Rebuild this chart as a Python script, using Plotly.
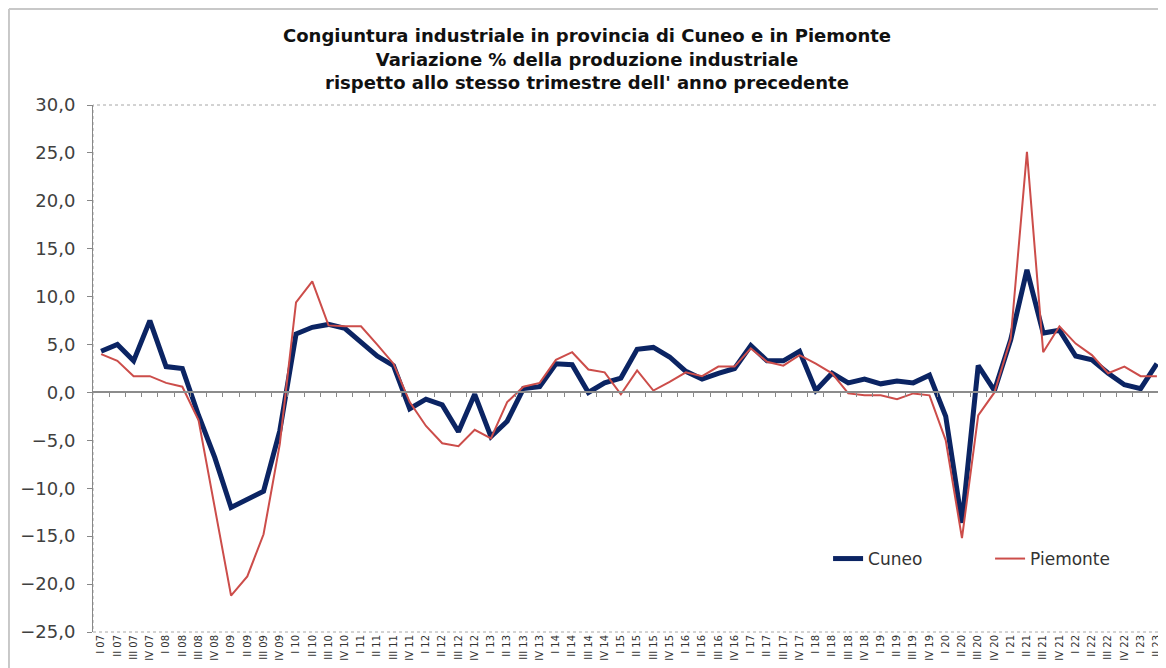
import plotly.graph_objects as go

# quarters I 07 ... II 23
roman = ['I', 'II', 'III', 'IV']
quarters = [f'{q} {y:02d}' for y in range(7, 24) for q in roman][:66]

cuneo = [4.3, 5.0, 3.3, 7.5, 2.7, 2.5, -2.4, -6.8, -12.0, -11.2, -10.3, -4.0,
         6.1, 6.8, 7.1, 6.7, 5.2, 3.8, 2.8, -1.7, -0.7, -1.3, -4.1, -0.2,
         -4.6, -3.0, 0.4, 0.6, 3.0, 2.9, 0.0, 1.0, 1.5, 4.5, 4.7, 3.7,
         2.2, 1.4, 2.0, 2.5, 4.9, 3.3, 3.3, 4.3, 0.2, 2.0, 1.0, 1.4,
         0.9, 1.2, 1.0, 1.8, -2.5, -13.6, 2.8, 0.2, 5.5, 12.8, 6.2, 6.5,
         3.8, 3.4, 2.0, 0.8, 0.4, 3.0]

piemonte = [4.0, 3.3, 1.7, 1.7, 1.0, 0.6, -2.9, -12.0, -21.2, -19.2, -14.8, -5.4,
            9.4, 11.6, 7.0, 6.9, 6.9, 5.0, 3.0, -1.0, -3.5, -5.3, -5.6, -3.9,
            -4.8, -1.0, 0.6, 1.0, 3.4, 4.2, 2.4, 2.1, -0.2, 2.3, 0.2, 1.1,
            2.1, 1.7, 2.7, 2.7, 4.6, 3.2, 2.8, 3.9, 3.0, 2.0, -0.1, -0.3,
            -0.3, -0.7, -0.1, -0.3, -5.0, -15.2, -2.4, 0.0, 5.6, 25.1, 4.2, 6.9,
            5.1, 3.9, 2.0, 2.7, 1.7, 1.7]

y_ticks = [30, 25, 20, 15, 10, 5, 0, -5, -10, -15, -20, -25]

idx = list(range(len(quarters)))

fig = go.Figure()

fig.add_trace(go.Scatter(
    x=idx, y=cuneo, name='Cuneo', mode='lines',
    line=dict(color='#0B2463', width=5),
))
fig.add_trace(go.Scatter(
    x=idx, y=piemonte, name='Piemonte', mode='lines',
    line=dict(color='#CC4D4A', width=2),
))

# dummy trace so the tick axis on the zero line gets drawn
fig.add_trace(go.Scatter(x=[0], y=[0], xaxis='x2', mode='lines',
                         showlegend=False, hoverinfo='skip',
                         line=dict(color='rgba(0,0,0,0)')))

zero_pos = (0 - (-25)) / (30 - (-25))

# the page body adds an 8px margin, so the figure is a bit smaller
fig.update_layout(
    width=1158, height=660,
    paper_bgcolor='white', plot_bgcolor='white',
    margin=dict(l=85, r=1, t=97, b=36),
    separators=',.',
    font=dict(family='DejaVu Sans', color='#404040'),
    title=dict(
        text='<b>Congiuntura industriale in provincia di Cuneo e in Piemonte<br>'
             'Variazione % della produzione industriale<br>'
             "rispetto allo stesso trimestre dell' anno precedente</b>",
        x=0.5, xanchor='center', y=0.948, yanchor='top',
        font=dict(size=18, color='#111111', family='DejaVu Sans'),
    ),
    xaxis=dict(
        range=[-0.5, len(quarters) - 0.5],
        tickvals=idx, ticktext=quarters, tickangle=-90,
        tickfont=dict(size=10, color='#333333'),
        showgrid=False, zeroline=False, showline=False, ticks='',
        automargin=False,
    ),
    xaxis2=dict(
        overlaying='x', anchor='free', position=zero_pos,
        range=[-0.5, len(quarters) - 0.5],
        tickvals=[i - 0.5 for i in idx[1:]],
        showticklabels=False, ticks='outside', ticklen=4, tickcolor='#888888',
        showline=True, linecolor='#8C8C8C', linewidth=2,
        showgrid=False, zeroline=False,
    ),
    yaxis=dict(
        range=[-25, 30], tickvals=y_ticks, tickformat='.1f',
        tickfont=dict(size=18, color='#404040'),
        ticklabelstandoff=8,
        showgrid=False, zeroline=False,
        showline=True, linecolor='#888888', linewidth=1,
        ticks='outside', ticklen=5, tickcolor='#888888',
        automargin=False,
    ),
    legend=dict(
        orientation='h', x=0.6857, y=0.1385, xanchor='left', yanchor='middle',
        font=dict(size=17, color='#333333'),
        bgcolor='rgba(0,0,0,0)',
        entrywidth=117, entrywidthmode='pixels',
    ),
    showlegend=True,
)

# dotted plot-area border
fig.add_shape(type='rect', xref='paper', yref='paper', x0=0, y0=0, x1=1, y1=1,
              line=dict(color='#A6A6A6', width=1, dash='dot'), layer='below')
# outer chart frame (left and top edges)
fig.add_shape(type='line', xref='paper', yref='paper',
              x0=-0.0784, x1=-0.0784, y0=-0.2, y1=1.182,
              line=dict(color='#C8C8C8', width=2))
fig.add_shape(type='line', xref='paper', yref='paper',
              x0=-0.0784, x1=1.01, y0=1.182, y1=1.182,
              line=dict(color='#C8C8C8', width=2))

fig.write_html('out.html')
